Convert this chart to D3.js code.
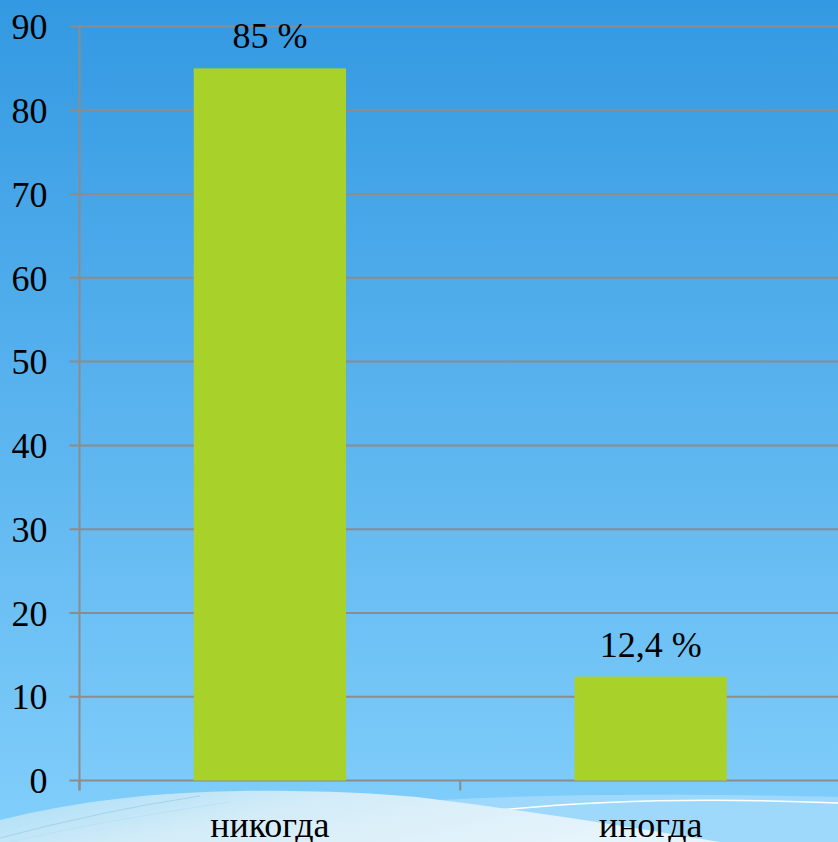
<!DOCTYPE html>
<html><head><meta charset="utf-8"><script src="https://cdn.jsdelivr.net/npm/d3@7"></script></head>
<body style="margin:0">
<svg width="838" height="842" id="chart" style="display:block"></svg>
<script>
// data
const categories = ['никогда', 'иногда'];
const values = [85, 12.4];
const valueLabels = ['85 %', '12,4 %'];
const yTicks = [0, 10, 20, 30, 40, 50, 60, 70, 80, 90];

const FONT = 'Liberation Serif';

function drawBars() {
  const dimensions = {
    width: 838,
    height: 842,
    margin: { top: 26.5, right: -3, bottom: 61.5, left: 79.5 }
  };
  dimensions.boundedWidth =
    dimensions.width - dimensions.margin.left - dimensions.margin.right;
  dimensions.boundedHeight =
    dimensions.height - dimensions.margin.top - dimensions.margin.bottom;

  const wrapper = d3.select('#chart');

  // background
  const defs = wrapper.append('defs');
  const bg = defs.append('linearGradient')
    .attr('id', 'bg').attr('x1', 0).attr('y1', 0).attr('x2', 0).attr('y2', 1);
  bg.append('stop').attr('offset', '0%').attr('stop-color', '#3399e2');
  bg.append('stop').attr('offset', '100%').attr('stop-color', '#82cffb');

  const swoosh = defs.append('linearGradient')
    .attr('id', 'swoosh').attr('x1', 0).attr('y1', 0).attr('x2', 1).attr('y2', 0.3);
  swoosh.append('stop').attr('offset', '0%').attr('stop-color', '#a6dcf6');
  swoosh.append('stop').attr('offset', '45%').attr('stop-color', '#d3ecf8');
  swoosh.append('stop').attr('offset', '100%').attr('stop-color', '#e6f4fb');

  wrapper.append('rect')
    .attr('width', dimensions.width)
    .attr('height', dimensions.height)
    .attr('fill', 'url(#bg)');

  // bottom decoration
  const deco = wrapper.append('g');
  deco.append('path')
    .attr('d', 'M440,800 C560,793 720,794 838,797 L838,842 L560,842 Z')
    .attr('fill', '#9ed9fb');
  deco.append('path')
    .attr('d', 'M500,810 C600,800 720,798 838,803')
    .attr('fill', 'none').attr('stroke', '#ffffff').attr('stroke-width', 1.5);
  deco.append('path')
    .attr('d', 'M0,820 C80,800 160,792 240,791 C320,790 400,794 440,800 C560,815 660,832 720,842 L0,842 Z')
    .attr('fill', 'url(#swoosh)');
  deco.append('path')
    .attr('d', 'M0,838 C60,822 120,808 200,796')
    .attr('fill', 'none').attr('stroke', '#9ccfe8').attr('stroke-width', 1.2).attr('opacity', 0.8);
  deco.append('path')
    .attr('d', 'M10,842 C80,826 150,814 230,802')
    .attr('fill', 'none').attr('stroke', '#b9def0').attr('stroke-width', 1).attr('opacity', 0.7);

  const bounds = wrapper
    .append('g')
    .attr('transform', `translate(${dimensions.margin.left}, ${dimensions.margin.top})`);

  // scales
  const xScale = d3
    .scaleBand()
    .domain(categories)
    .range([0, dimensions.boundedWidth])
    .paddingInner(0.6)
    .paddingOuter(0.3);

  const yScale = d3
    .scaleLinear()
    .domain([0, 90])
    .range([dimensions.boundedHeight, 0]);

  // gridlines
  bounds.append('g')
    .selectAll('line')
    .data(yTicks)
    .join('line')
    .attr('x1', -10)
    .attr('x2', dimensions.boundedWidth)
    .attr('y1', d => yScale(d))
    .attr('y2', d => yScale(d))
    .attr('stroke', '#8c8c8c')
    .attr('stroke-width', 2);

  // bars
  const rows = categories.map((c, i) => ({ cat: c, value: values[i], label: valueLabels[i] }));

  bounds.append('g')
    .selectAll('rect')
    .data(rows)
    .join('rect')
    .attr('x', d => xScale(d.cat))
    .attr('y', d => yScale(d.value))
    .attr('width', xScale.bandwidth())
    .attr('height', d => dimensions.boundedHeight - yScale(d.value))
    .attr('fill', '#a8d12a');

  // value labels
  bounds.append('g')
    .selectAll('text')
    .data(rows)
    .join('text')
    .attr('x', d => xScale(d.cat) + xScale.bandwidth() / 2)
    .attr('y', d => yScale(d.value) - 20)
    .attr('text-anchor', 'middle')
    .attr('font-family', FONT)
    .attr('font-size', 36)
    .text(d => d.label);

  // y axis
  const yAxisGenerator = d3.axisLeft(yScale)
    .tickValues(yTicks)
    .tickSize(0)
    .tickPadding(32);
  const yAxis = bounds.append('g').call(yAxisGenerator)
    .attr('font-family', FONT)
    .attr('font-size', 36);
  yAxis.select('.domain').remove();
  yAxis.selectAll('text')
    .attr('fill', '#000')
    .attr('dy', '0.34em');

  bounds.append('line')
    .attr('x1', 0).attr('x2', 0)
    .attr('y1', 0).attr('y2', dimensions.boundedHeight + 10)
    .attr('stroke', '#8c8c8c')
    .attr('stroke-width', 2);

  // x axis
  const step = xScale.step();
  const boundaries = d3.range(categories.length + 1).map(i => i * step);
  bounds.append('g')
    .selectAll('line')
    .data(boundaries)
    .join('line')
    .attr('x1', d => d).attr('x2', d => d)
    .attr('y1', dimensions.boundedHeight)
    .attr('y2', dimensions.boundedHeight + 10)
    .attr('stroke', '#8c8c8c')
    .attr('stroke-width', 2);

  bounds.append('g')
    .selectAll('text')
    .data(categories)
    .join('text')
    .attr('x', d => xScale(d) + xScale.bandwidth() / 2)
    .attr('y', dimensions.boundedHeight + 56)
    .attr('text-anchor', 'middle')
    .attr('font-family', FONT)
    .attr('font-size', 36)
    .text(d => d);
}
drawBars();
</script>
</body></html>
